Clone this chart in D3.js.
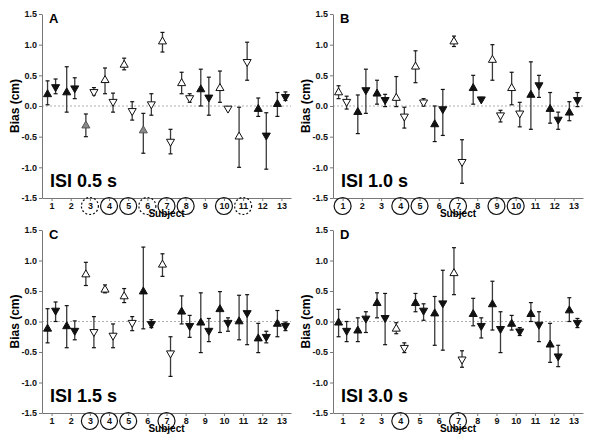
<!DOCTYPE html>
<html lang="en">
<head>
<meta charset="utf-8" />
<script src="https://d3js.org/d3.v7.min.js"></script>
<style>
  body { margin: 0; background: #fff; }
  svg text { font-family: "Liberation Sans", Arial, Helvetica, sans-serif; }
  .axis path, .axis line { stroke: #777; }
  .axis text { font-size: 9px; font-weight: bold; fill: #111; }
</style>
</head>
<body>
<svg id="Fig" width="601" height="445"></svg>
<script>
// subjects and y ticks
const subjects = [1, 2, 3, 4, 5, 6, 7, 8, 9, 10, 11, 12, 13];
const yTicks = [-1.5, -1.0, -0.5, 0.0, 0.5, 1.0, 1.5];
const letters = ["A", "B", "C", "D"];
const isiLabels = ["ISI 0.5 s", "ISI 1.0 s", "ISI 1.5 s", "ISI 3.0 s"];

// [mean, low, high] per subject; fill: f = filled, o = open, g = grey
const upA = [[0.19,0.02,0.41],[0.22,-0.10,0.64],[-0.32,-0.50,-0.13],[0.42,0.20,0.62],[0.67,0.59,0.78],[-0.40,-0.77,-0.12],[1.05,0.88,1.20],[0.37,0.20,0.55],[0.27,0.00,0.60],[0.29,0.06,0.57],[-0.50,-1.00,-0.02],[-0.05,-0.17,0.13],[0.03,-0.17,0.22]];
const upFillA = ["f","f","g","o","o","g","o","o","f","o","o","f","f"];
const downA = [[0.31,0.20,0.44],[0.29,0.12,0.46],[0.23,0.18,0.30],[0.07,-0.10,0.21],[-0.08,-0.23,0.07],[0.03,-0.15,0.20],[-0.58,-0.78,-0.38],[0.13,0.06,0.20],[0.14,-0.15,0.47],[-0.04,-0.07,-0.01],[0.72,0.42,1.04],[-0.48,-1.03,-0.11],[0.15,0.09,0.23]];
const downFillA = ["f","f","o","o","o","o","o","o","f","o","o","f","f"];

const upB = [[0.22,0.12,0.33],[-0.10,-0.45,0.18],[0.20,0.03,0.42],[0.13,-0.01,0.48],[0.64,0.38,0.90],[-0.30,-0.58,0.00],[1.05,0.97,1.14],[0.29,0.03,0.50],[0.75,0.42,1.00],[0.29,0.02,0.55],[0.18,-0.38,0.72],[-0.05,-0.28,0.22],[-0.11,-0.24,0.07]];
const upFillB = ["o","f","f","o","o","f","o","f","o","o","f","f","f"];
const downB = [[0.07,-0.05,0.16],[0.26,-0.12,0.60],[0.10,-0.01,0.19],[-0.17,-0.36,-0.02],[0.06,0.00,0.12],[-0.05,-0.48,0.27],[-0.91,-1.26,-0.55],[0.11,0.09,0.14],[-0.15,-0.26,-0.07],[-0.12,-0.34,0.06],[0.34,0.14,0.50],[-0.22,-0.38,-0.10],[0.10,-0.01,0.22]];
const downFillB = ["o","f","f","o","o","f","o","f","o","o","f","f","f"];

const upC = [[-0.12,-0.35,0.21],[-0.08,-0.43,0.26],[0.77,0.59,0.97],[0.52,0.47,0.60],[0.41,0.31,0.54],[0.49,-0.12,1.22],[0.93,0.74,1.11],[0.16,-0.04,0.42],[-0.02,-0.51,0.47],[0.20,-0.18,0.49],[0.00,-0.30,0.43],[-0.28,-0.51,-0.03],[-0.04,-0.25,0.18]];
const upFillC = ["f","f","o","o","o","f","o","f","f","f","f","f","f"];
const downC = [[0.18,0.00,0.32],[-0.15,-0.30,0.01],[-0.17,-0.43,0.08],[-0.23,-0.43,-0.04],[-0.02,-0.15,0.08],[-0.04,-0.10,0.03],[-0.52,-0.90,-0.25],[-0.07,-0.26,0.10],[-0.15,-0.33,0.05],[-0.02,-0.16,0.06],[0.14,-0.38,0.44],[-0.25,-0.35,-0.16],[-0.07,-0.15,-0.01]];
const downFillC = ["f","f","o","o","o","f","o","f","f","f","f","f","f"];

const upD = [[-0.02,-0.25,0.20],[-0.15,-0.33,0.06],[0.30,0.06,0.47],[-0.12,-0.20,-0.02],[0.30,0.16,0.46],[0.13,-0.39,0.41],[0.79,0.44,1.21],[0.12,-0.07,0.38],[0.28,-0.14,0.66],[-0.04,-0.14,0.10],[0.12,0.00,0.31],[-0.38,-0.67,-0.03],[0.18,0.00,0.39]];
const upFillD = ["f","f","f","o","f","f","o","f","f","f","f","f","f"];
const downD = [[-0.15,-0.33,0.00],[0.05,-0.18,0.16],[0.06,-0.38,0.46],[-0.43,-0.51,-0.35],[0.18,0.02,0.29],[0.30,-0.47,0.84],[-0.62,-0.75,-0.48],[-0.07,-0.27,0.06],[-0.12,-0.51,0.16],[-0.16,-0.23,-0.10],[-0.05,-0.33,0.16],[-0.57,-0.74,-0.39],[-0.02,-0.10,0.05]];
const downFillD = ["f","f","f","o","f","f","o","f","f","f","f","f","f"];

// circled subject numbers
const solidA = [4, 5, 7, 8, 10], dashedA = [3, 6, 11];
const solidB = [1, 4, 5, 7, 9, 10], dashedB = [];
const solidC = [3, 4, 5, 7], dashedC = [];
const solidD = [4, 7], dashedD = [];

const panels = [
  {up: upA, upFill: upFillA, down: downA, downFill: downFillA, solid: solidA, dashed: dashedA},
  {up: upB, upFill: upFillB, down: downB, downFill: downFillB, solid: solidB, dashed: dashedB},
  {up: upC, upFill: upFillC, down: downC, downFill: downFillC, solid: solidC, dashed: dashedC},
  {up: upD, upFill: upFillD, down: downD, downFill: downFillD, solid: solidD, dashed: dashedD}
];

const svg = d3.select("svg#Fig");
const boxes = [
  {left: 42, right: 291, top: 14, bottom: 198},
  {left: 333, right: 583, top: 14, bottom: 198},
  {left: 42, right: 291, top: 230, bottom: 413},
  {left: 333, right: 583, top: 230, bottom: 413}
];
const fillOf = {f: "#111", o: "#fff", g: "#8a8a8a"};
const strokeOf = {f: "#111", o: "#111", g: "#555"};
const tri = d3.symbol().type(d3.symbolTriangle).size(28);

panels.forEach((p, i) => {
  const b = boxes[i];
  const x = d3.scaleLinear().domain([0.5, 13.5]).range([b.left, b.right]);
  const y = d3.scaleLinear().domain([-1.5, 1.5]).range([b.bottom, b.top]);
  const g = svg.append("g");

  g.append("line")
    .attr("x1", x(0.5)).attr("x2", x(13.5))
    .attr("y1", y(0)).attr("y2", y(0))
    .attr("stroke", "#999").attr("stroke-width", 0.8)
    .attr("stroke-dasharray", "2,2");

  g.append("g").attr("class", "axis")
    .attr("transform", "translate(" + b.left + ",0)")
    .call(d3.axisLeft(y).tickValues(yTicks).tickFormat(d => d.toFixed(1))
      .tickSize(3).tickSizeOuter(0).tickPadding(2));

  g.append("g").attr("class", "axis")
    .attr("transform", "translate(0," + b.bottom + ")")
    .call(d3.axisBottom(x).tickValues(subjects)
      .tickSize(3).tickSizeOuter(0).tickPadding(2));

  // circles round subject numbers
  g.selectAll("circle.solid").data(p.solid).join("circle")
    .attr("class", "solid")
    .attr("cx", d => x(d)).attr("cy", b.bottom + 8).attr("r", 8.5)
    .attr("fill", "none").attr("stroke", "#111").attr("stroke-width", 1.2);
  g.selectAll("circle.dashed").data(p.dashed).join("circle")
    .attr("class", "dashed")
    .attr("cx", d => x(d)).attr("cy", b.bottom + 8).attr("r", 8.5)
    .attr("fill", "none").attr("stroke", "#111").attr("stroke-width", 1.2)
    .attr("stroke-dasharray", "2,2");

  const series = [
    {vals: p.up, fills: p.upFill, dx: -0.21, rot: 0},
    {vals: p.down, fills: p.downFill, dx: 0.21, rot: 180}
  ];
  series.forEach(s => {
    const data = subjects.map((sub, k) => ({
      sub: sub, m: s.vals[k][0], lo: s.vals[k][1], hi: s.vals[k][2], f: s.fills[k]
    }));
    const eg = g.append("g");
    eg.selectAll("line.bar").data(data).join("line")
      .attr("class", "bar")
      .attr("x1", d => x(d.sub + s.dx)).attr("x2", d => x(d.sub + s.dx))
      .attr("y1", d => y(d.lo)).attr("y2", d => y(d.hi))
      .attr("stroke", "#3a3a3a").attr("stroke-width", 1.3);
    ["lo", "hi"].forEach(key => {
      eg.selectAll("line.cap" + key).data(data).join("line")
        .attr("class", "cap" + key)
        .attr("x1", d => x(d.sub + s.dx) - 2).attr("x2", d => x(d.sub + s.dx) + 2)
        .attr("y1", d => y(d[key])).attr("y2", d => y(d[key]))
        .attr("stroke", "#111").attr("stroke-width", 1.2);
    });
    eg.selectAll("path.mark").data(data).join("path")
      .attr("class", "mark")
      .attr("d", tri)
      .attr("transform", d => "translate(" + x(d.sub + s.dx) + "," + y(d.m) + ") rotate(" + s.rot + ")")
      .attr("fill", d => fillOf[d.f])
      .attr("stroke", d => strokeOf[d.f]).attr("stroke-width", 1);
  });

  // labels
  g.append("text").attr("x", b.left + 7).attr("y", b.top + 9)
    .style("font-size", "13px").style("font-weight", "bold").text(letters[i]);
  g.append("text").attr("x", b.left + 8).attr("y", b.bottom - 11)
    .style("font-size", "18px").style("font-weight", "bold").text(isiLabels[i]);
  g.append("text").attr("x", (b.left + b.right) / 2).attr("y", b.bottom + 19)
    .attr("text-anchor", "middle")
    .style("font-size", "10px").style("font-weight", "bold").text("Subject");
  const cy = y(0);
  g.append("text")
    .attr("transform", "translate(" + (b.left - 23) + "," + cy + ") rotate(-90)")
    .attr("text-anchor", "middle")
    .style("font-size", "12px").style("font-weight", "bold").text("Bias (cm)");
});
</script>
</body>
</html>
